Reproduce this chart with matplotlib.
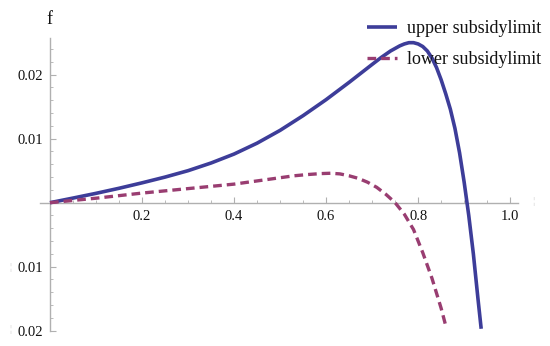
import matplotlib
matplotlib.use("Agg")
import matplotlib.pyplot as plt
from matplotlib.ticker import FixedLocator, FixedFormatter, MultipleLocator

plt.rcParams['font.family'] = ['Liberation Serif', 'DejaVu Serif']

# Data
upper_x = [0.0, 0.05, 0.10, 0.15, 0.20, 0.25, 0.30, 0.35, 0.40, 0.45, 0.50, 0.55,
           0.60, 0.65, 0.70, 0.72, 0.74, 0.76, 0.77, 0.78, 0.79, 0.80, 0.81, 0.82,
           0.83, 0.84, 0.85, 0.86, 0.87, 0.88, 0.89, 0.90, 0.91, 0.92, 0.93, 0.937]
upper_y = [0.0, 0.00072, 0.00146, 0.00225, 0.0031, 0.0040, 0.0050, 0.0062, 0.0076,
           0.0093, 0.0113, 0.0136, 0.0161, 0.0188, 0.0216, 0.0227, 0.0237, 0.0245,
           0.0248, 0.0250, 0.0250, 0.0248, 0.0244, 0.0237, 0.0226, 0.0211, 0.0192,
           0.0170, 0.0146, 0.0116, 0.0078, 0.0032, -0.0020, -0.0080, -0.0150, -0.0197]

lower_x = [0.0, 0.05, 0.10, 0.15, 0.20, 0.25, 0.30, 0.35, 0.40, 0.45, 0.50, 0.53,
           0.56, 0.59, 0.61, 0.63, 0.65, 0.67, 0.69, 0.71, 0.73, 0.75, 0.77, 0.79,
           0.81, 0.83, 0.85, 0.861]
lower_y = [0.0, 0.00035, 0.0007, 0.0011, 0.0015, 0.00185, 0.0022, 0.00255, 0.0029,
           0.0034, 0.0039, 0.0042, 0.0044, 0.00455, 0.0046, 0.0045, 0.0042, 0.0038,
           0.0032, 0.0024, 0.0013, 0.0, -0.0018, -0.0042, -0.0078, -0.0118, -0.0165,
           -0.0195]

labels = ["upper subsidylimit", "lower subsidylimit"]
xticks = [0.2, 0.4, 0.6, 0.8, 1.0]
xtick_labels = ["0.2", "0.4", "0.6", "0.8", "1.0"]
yticks = [-0.02, -0.01, 0.01, 0.02]
ytick_labels = ["0.02", "0.01", "0.01", "0.02"]

W, H = 550, 346
fig = plt.figure(figsize=(W / 100, H / 100), dpi=100)

# axes placement in pixels
x0_px, x1_px = 40, 518
xmin, xmax = -0.0217, 1.017
ytop_px, ybot_px = 38, 330.7
ymin, ymax = -0.02, 0.02573
ax = fig.add_axes([x0_px / W, 1 - ybot_px / H, (x1_px - x0_px) / W, (ybot_px - ytop_px) / H])
ax.set_xlim(xmin, xmax)
ax.set_ylim(ymin, ymax)

blue = '#3d3d99'
purple = '#993d71'
axis_col = '#b0b0b0'

ax.plot(upper_x, upper_y, color=blue, lw=2.6, solid_capstyle='butt', clip_on=False,
        label=labels[0], zorder=3)
ax.plot(lower_x, lower_y, color=purple, lw=2.4, dashes=(2.6, 1.5), clip_on=False,
        label=labels[1], zorder=3)

for s in ['top', 'right']:
    ax.spines[s].set_visible(False)
ax.spines['left'].set_position(('data', 0))
ax.spines['bottom'].set_position(('data', 0))
for s in ['left', 'bottom']:
    ax.spines[s].set_color(axis_col)
    ax.spines[s].set_linewidth(1.0)
ax.patch.set_visible(False)

ax.xaxis.set_major_locator(FixedLocator(xticks))
ax.xaxis.set_major_formatter(FixedFormatter(xtick_labels))
ax.xaxis.set_minor_locator(MultipleLocator(0.05))
ax.yaxis.set_major_locator(FixedLocator(yticks))
ax.yaxis.set_major_formatter(FixedFormatter(ytick_labels))
ax.yaxis.set_minor_locator(MultipleLocator(0.002))

ax.tick_params(axis='both', which='major', direction='in', length=4, width=0.8,
               color=axis_col, labelsize=10.5, labelcolor='#111111')
ax.tick_params(axis='both', which='minor', direction='in', length=2.5, width=0.6,
               color=axis_col)
ax.tick_params(axis='x', which='major', pad=5)
ax.tick_params(axis='y', which='major', pad=5)

# axis label "f"
fig.text(49 / W, 1 - 20 / H, "f", ha='center', va='center', fontsize=13, color='#111111')
# faint placeholder glyphs seen in the reference (missing minus signs / x label)
for ypx in (267, 330):
    fig.text(10 / W, 1 - ypx / H, "¦", ha='center', va='center', fontsize=7, color='#c8c8c8')
fig.text(533 / W, 1 - 201 / H, "¦", ha='center', va='center', fontsize=8, color='#c8c8c8')

leg = ax.legend(loc='upper left', bbox_to_anchor=(367 / W, 1 - 20 / H),
                bbox_transform=fig.transFigure, frameon=False, fontsize=13,
                handlelength=1.65, handletextpad=0.55, labelspacing=0.8,
                borderpad=0, borderaxespad=0)
for t in leg.get_texts():
    t.set_color('#111111')

fig.savefig("out.png", dpi=100)
